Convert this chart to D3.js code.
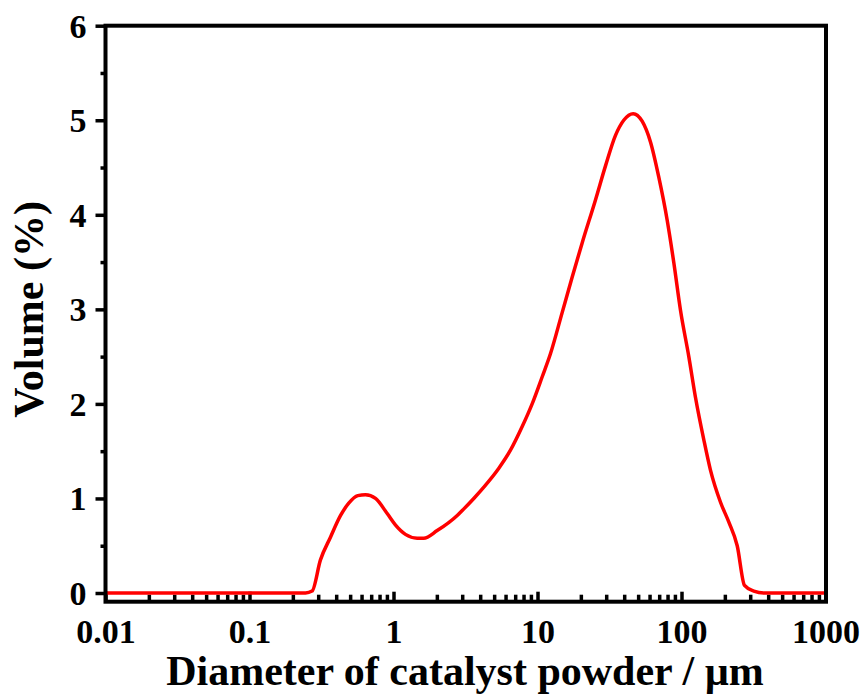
<!DOCTYPE html>
<html>
<head>
<meta charset="utf-8">
<script src="https://cdn.jsdelivr.net/npm/d3@7/dist/d3.min.js"></script>
<style>
  html, body { margin: 0; padding: 0; background: #fff; }
  svg text { font-family: "Liberation Serif", "Times New Roman", serif; font-weight: bold; fill: #000; }
</style>
</head>
<body>
<svg id="chart" width="865" height="695"></svg>
<script>
// Particle size distribution: diameter (µm) vs volume (%)
const diameters = [0.01, 0.245, 0.272, 0.311, 0.365, 0.429, 0.489, 0.565, 0.639, 0.75, 0.904, 1.03, 1.21, 1.46, 1.62,
  2.01, 2.77, 3.08, 3.61, 4.24, 5.39, 6.49, 7.83, 9.18, 10.8, 12.3, 14.8, 17.4, 20.4, 25.3, 29.7, 34.8, 39.7, 46.2,
  53.3, 60.9, 69.5, 79.6, 88.5, 98.4, 112.4, 125, 142.9, 158.9, 186.6, 213.2, 243.7, 273.9, 317.8, 373, 1000];
const volumes = [0, 0, 0.02, 0.35, 0.59, 0.82, 0.95, 1.03, 1.04, 1.00, 0.84, 0.72, 0.62, 0.58, 0.58,
  0.66, 0.82, 0.89, 1.00, 1.12, 1.32, 1.51, 1.76, 2.00, 2.29, 2.53, 2.96, 3.34, 3.70, 4.16, 4.52, 4.84, 5.00, 5.07,
  4.99, 4.77, 4.40, 3.94, 3.49, 2.99, 2.50, 2.07, 1.62, 1.30, 0.96, 0.75, 0.50, 0.08, 0.02, 0, 0];

const xTickValues = [0.01, 0.1, 1, 10, 100, 1000];
const xTickLabels = ["0.01", "0.1", "1", "10", "100", "1000"];
const yTickValues = [0, 1, 2, 3, 4, 5, 6];
const yMinorValues = [0.5, 1.5, 2.5, 3.5, 4.5, 5.5];
const xTitle = "Diameter of catalyst powder / µm";
const yTitle = "Volume (%)";

const svg = d3.select("#chart");
const plotLeft = 105.5, plotRight = 826, plotTop = 25.7, plotBottom = 601.7;

const x = d3.scaleLog().domain([0.01, 1000]).range([plotLeft, 825.5]);
const y = d3.scaleLinear().domain([-0.092, 6]).range([plotBottom, plotTop]);

// minor x ticks: 2..9 within each decade
const xMinorValues = [];
for (let d = 0.01; d < 999; d *= 10) {
  for (let k = 2; k <= 9; k++) xMinorValues.push(+(d * k).toPrecision(3));
}

const axisStroke = 3.5;

// x axis: ticks point inward
const gx = svg.append("g").attr("transform", `translate(0,${plotBottom})`);
gx.append("g").call(d3.axisBottom(x).tickValues(xMinorValues).tickSize(-7).tickFormat(""));
gx.append("g").call(d3.axisBottom(x).tickValues(xTickValues).tickSize(-10)
  .tickFormat((d, i) => xTickLabels[i]));
gx.selectAll(".domain").remove();
gx.selectAll(".tick line").attr("stroke", "#000").attr("stroke-width", axisStroke);
gx.selectAll(".tick text").attr("font-size", 34).attr("y", 0).attr("dy", 41);

// y axis: ticks point outward
const gy = svg.append("g").attr("transform", `translate(${plotLeft},0)`);
gy.append("g").call(d3.axisLeft(y).tickValues(yMinorValues).tickSize(5).tickFormat(""));
gy.append("g").call(d3.axisLeft(y).tickValues(yTickValues).tickSize(10).tickFormat(d3.format("d")));
gy.selectAll(".domain").remove();
gy.selectAll(".tick line").attr("stroke", "#000").attr("stroke-width", axisStroke);
gy.selectAll(".tick text").attr("font-size", 34).attr("x", -19).attr("dy", 11.5);

// distribution curve
const line = d3.line().x((d, i) => x(diameters[i])).y(d => y(d)).curve(d3.curveMonotoneX);
svg.append("path")
  .datum(volumes)
  .attr("d", line)
  .attr("fill", "none")
  .attr("stroke", "#ff0000")
  .attr("stroke-width", 3.5)
  .attr("stroke-linejoin", "round");

// frame
svg.append("rect")
  .attr("x", plotLeft).attr("y", plotTop)
  .attr("width", plotRight - plotLeft).attr("height", plotBottom - plotTop)
  .attr("fill", "none").attr("stroke", "#000").attr("stroke-width", 4);

// titles
svg.append("text")
  .attr("x", 465).attr("y", 685)
  .attr("text-anchor", "middle").attr("font-size", 42)
  .text(xTitle);

svg.append("text")
  .attr("transform", `translate(43,${(plotTop + 593) / 2}) rotate(-90)`)
  .attr("text-anchor", "middle").attr("font-size", 42)
  .text(yTitle);
</script>
</body>
</html>
